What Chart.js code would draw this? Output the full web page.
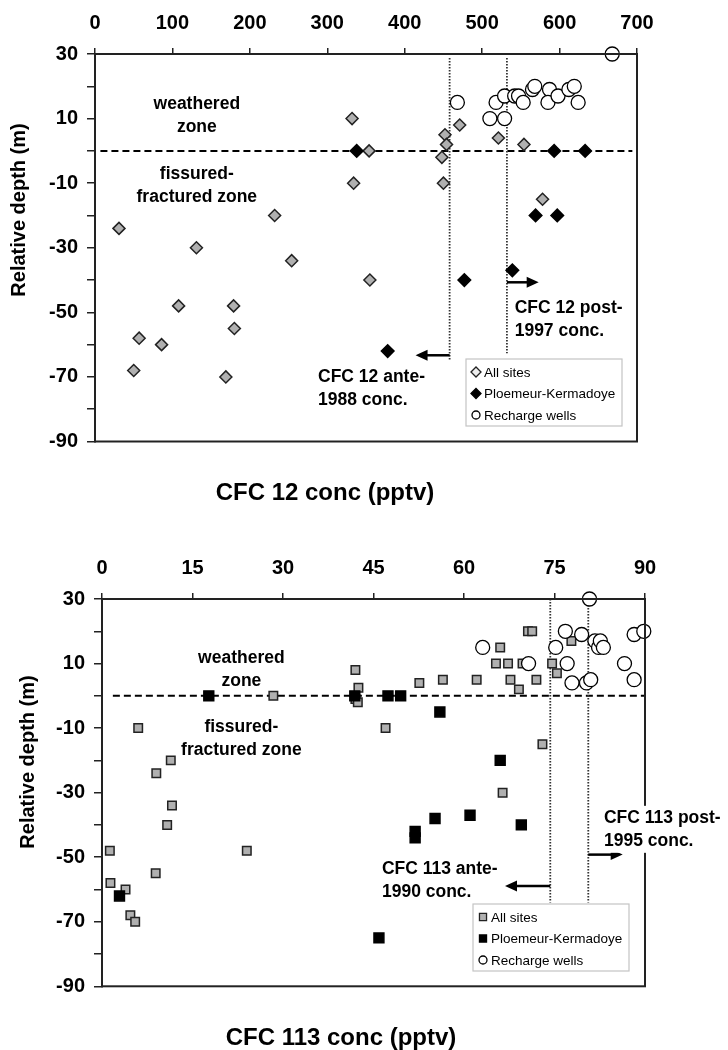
<!DOCTYPE html>
<html>
<head>
<meta charset="utf-8">
<script src="https://cdn.jsdelivr.net/npm/chart.js@4.4.1/dist/chart.umd.min.js"></script>
<style>
  body { margin: 0; background: #fff; }
  .box { position: relative; width: 728px; height: 525px; }
</style>
</head>
<body>
<div class="box"><canvas id="cfc12" width="728" height="525"></canvas></div>
<div class="box"><canvas id="cfc113" width="728" height="525"></canvas></div>
<script>
// CFC 12 (pptv) vs relative depth (m)
const cfc12AllX = [332, 354, 334, 232, 31, 131, 254, 355, 108, 179, 180, 57, 86, 50, 169, 471, 452, 454, 448, 450, 521, 554, 578];
const cfc12AllY = [10, 0, -10, -20, -24, -30, -34, -40, -48, -48, -55, -58, -60, -68, -70, 8, 5, 2, -2, -10, 4, 2, -15];
const cfc12PkX = [338, 378, 477, 539, 593, 633, 569, 597];
const cfc12PkY = [0, -62, -40, -37, 0, 0, -20, -20];
const cfc12WellX = [668, 468, 518, 510, 529, 529, 542, 547, 553, 565, 568, 587, 585, 598, 612, 619, 624];
const cfc12WellY = [30, 15, 15, 10, 10, 17, 17, 17, 15, 19, 20, 19, 15, 17, 19, 20, 15];
const cfc12Limits = [458, 532];      // ante-1988 / post-1997 concentrations
const cfc12Ticks = { min: 0, max: 700, step: 100 };

// CFC 113 (pptv) vs relative depth (m)
const cfc113AllX = [6, 11.4, 9, 11.6, 10.8, 1.3, 1.4, 3.9, 4.7, 5.5, 8.9, 24, 28.4, 42, 42.5, 42, 42.4, 47, 52.6, 56.5, 62.1, 66, 65.3, 67.3, 69.7, 67.7, 69.1, 72, 70.6, 71.3, 74.6, 75.4, 77.8, 73, 66.4];
const cfc113AllY = [-10, -20, -24, -34, -40, -48, -58, -60, -68, -70, -55, -48, 0, 8, 2.5, -1, -2, -10, 4, 5, 5, 15, 10, 10, 10, 5, 2, 5, 20, 20, 10, 7, 17, -15, -30];
const cfc113PkX = [17.7, 41.9, 47.4, 49.5, 56, 66, 2.9, 45.9, 51.9, 51.9, 55.2, 61, 69.5];
const cfc113PkY = [0, 0, 0, 0, -5, -20, -62, -75, -42, -44, -38, -37, -40];
const cfc113WellX = [80.8, 63.1, 70.7, 75.2, 76.8, 79.5, 77.1, 77.9, 80.3, 81, 81.7, 82.3, 82.6, 83.1, 86.6, 88.2, 88.2, 89.8];
const cfc113WellY = [30, 15, 10, 15, 20, 19, 10, 4, 4, 5, 17, 15, 17, 15, 10, 19, 5, 20];
const cfc113Limits = [74.3, 80.6];   // ante-1990 / post-1995 concentrations
const cfc113Ticks = { min: 0, max: 90, step: 15 };

const depthTicks = { min: -90, max: 30, step: 10 };
const zoneDepth = 0;
const seriesLabels = ['All sites', 'Ploemeur-Kermadoye', 'Recharge wells'];

const FONT = '"Liberation Sans", Arial, Helvetica, sans-serif';
Chart.defaults.font.family = FONT;
Chart.defaults.color = '#000';

const zip = (xs, ys) => xs.map((x, i) => ({ x: x, y: ys[i] }));

function arrow(ctx, x0, x1, y) {
  const dir = x1 > x0 ? 1 : -1;
  ctx.beginPath();
  ctx.moveTo(x0, y);
  ctx.lineTo(x1 - dir * 8, y);
  ctx.stroke();
  ctx.beginPath();
  ctx.moveTo(x1, y);
  ctx.lineTo(x1 - dir * 12, y - 5.5);
  ctx.lineTo(x1 - dir * 12, y + 5.5);
  ctx.closePath();
  ctx.fill();
}

function textBlock(ctx, lines, x, y, align, bg) {
  ctx.font = 'bold 17.5px ' + FONT;
  ctx.textAlign = align;
  ctx.textBaseline = 'middle';
  if (bg) {
    const w = Math.max(...lines.map(l => ctx.measureText(l).width));
    const left = align === 'center' ? x - w / 2 : x;
    ctx.fillStyle = '#fff';
    ctx.fillRect(left - 2, y - 12, w + 4, 23 * (lines.length - 1) + 24);
  }
  ctx.fillStyle = '#000';
  lines.forEach((l, i) => ctx.fillText(l, x, y + i * 23));
}

const overlays = {
  id: 'overlays',
  beforeDatasetsDraw(chart, args, o) {
    const { ctx, scales: { x, y } } = chart;
    ctx.save();
    // weathered / fissured boundary
    ctx.strokeStyle = '#000';
    ctx.lineWidth = 2;
    ctx.setLineDash([7, 4]);
    ctx.beginPath();
    ctx.moveTo(x.getPixelForValue(o.zoneFrom), y.getPixelForValue(zoneDepth));
    ctx.lineTo(x.getPixelForValue(o.zoneTo), y.getPixelForValue(zoneDepth));
    ctx.stroke();
    // dotted concentration limits
    ctx.strokeStyle = '#333';
    ctx.lineWidth = 1.8;
    ctx.setLineDash([1.5, 1.5]);
    o.limits.forEach((v, i) => {
      ctx.beginPath();
      ctx.moveTo(x.getPixelForValue(v), y.getPixelForValue(o.limitTop));
      ctx.lineTo(x.getPixelForValue(v), y.getPixelForValue(o.limitBottom[i]));
      ctx.stroke();
    });
    ctx.restore();
  },
  afterDatasetsDraw(chart, args, o) {
    const { ctx, chartArea: a, scales: { x, y } } = chart;
    ctx.save();
    // frame
    ctx.strokeStyle = '#222';
    ctx.lineWidth = 2;
    ctx.strokeRect(a.left, a.top, a.right - a.left, a.bottom - a.top);
    // arrows
    ctx.strokeStyle = '#000';
    ctx.fillStyle = '#000';
    ctx.lineWidth = 2.5;
    o.arrows.forEach(r => arrow(ctx, x.getPixelForValue(r.from), x.getPixelForValue(r.to), y.getPixelForValue(r.y)));
    // labels
    o.texts.forEach(t => textBlock(ctx, t.lines, x.getPixelForValue(t.x), y.getPixelForValue(t.y), t.align, t.bg));
    // axis titles
    ctx.fillStyle = '#000';
    ctx.font = 'bold 24px ' + FONT;
    ctx.textAlign = 'center';
    ctx.textBaseline = 'alphabetic';
    ctx.fillText(o.xTitle, o.xTitlePos[0], o.xTitlePos[1]);
    ctx.save();
    ctx.translate(o.yTitlePos[0], o.yTitlePos[1]);
    ctx.rotate(-Math.PI / 2);
    ctx.font = 'bold 20px ' + FONT;
    ctx.textBaseline = 'middle';
    ctx.fillText('Relative depth (m)', 0, 0);
    ctx.restore();
    // legend
    const lx = a.left + 371, ly = a.top + 305;
    ctx.fillStyle = '#fff';
    ctx.fillRect(lx, ly, 156, 67);
    ctx.strokeStyle = '#c4c4c4';
    ctx.lineWidth = 1.2;
    ctx.strokeRect(lx, ly, 156, 67);
    chart.data.datasets.forEach((ds, i) => {
      const cy = ly + 13 + i * 21.5;
      ctx.fillStyle = i === 0 ? o.legendFill : ds.backgroundColor;
      ctx.strokeStyle = ds.borderColor;
      ctx.lineWidth = 1.3;
      Chart.helpers.drawPoint(ctx, { pointStyle: ds.pointStyle, radius: ds.pointStyle === 'circle' ? 4 : 5, rotation: 0, borderWidth: 1.3 }, lx + 10, cy);
      ctx.fillStyle = '#000';
      ctx.font = '13.5px ' + FONT;
      ctx.textAlign = 'left';
      ctx.textBaseline = 'middle';
      ctx.fillText(ds.label, lx + 18, cy + 1);
    });
    ctx.restore();
  }
};

function makeChart(id, all, pk, wells, shape, xt, box, o) {
  new Chart(document.getElementById(id), {
    type: 'scatter',
    data: {
      datasets: [
        { label: seriesLabels[0], data: all, pointStyle: shape, pointRadius: 6, pointHoverRadius: 6,
          backgroundColor: '#b0b0b0', borderColor: '#222', borderWidth: 1.5, order: 3, clip: false },
        { label: seriesLabels[1], data: pk, pointStyle: shape, pointRadius: shape === 'rect' ? 7 : 6.3, pointHoverRadius: 6,
          backgroundColor: '#000', borderColor: '#000', borderWidth: 1.5, order: 2, clip: false },
        { label: seriesLabels[2], data: wells, pointStyle: 'circle', pointRadius: 7, pointHoverRadius: 7,
          backgroundColor: '#fff', borderColor: '#000', borderWidth: 1.3, order: 1, clip: false }
      ]
    },
    options: {
      responsive: false,
      animation: false,
      layout: { padding: { left: 0, top: 0, right: 728 - box.right, bottom: 525 - box.bottom } },
      scales: {
        x: {
          type: 'linear', position: 'top', min: xt.min, max: xt.max,
          ticks: { stepSize: xt.step, font: { size: 20, weight: 'bold' }, color: '#000', padding: 13, maxRotation: 0 },
          grid: { drawOnChartArea: false, tickLength: 6, color: '#222', lineWidth: 1.5 },
          border: { color: '#222', width: 2 },
          afterFit: s => { s.height = box.top; }
        },
        y: {
          type: 'linear', min: depthTicks.min, max: depthTicks.max,
          ticks: { stepSize: depthTicks.step, font: { size: 20, weight: 'bold' }, color: '#000', padding: 9,
            callback: v => ((v - depthTicks.max) % 20 === 0 ? v : '') },
          grid: { drawOnChartArea: false, tickLength: 8, color: '#222', lineWidth: 1.5 },
          border: { color: '#222', width: 2 },
          afterFit: s => { s.width = box.left; }
        }
      },
      plugins: { legend: { display: false }, tooltip: { enabled: false }, overlays: o }
    },
    plugins: [overlays]
  });
}

makeChart('cfc12', zip(cfc12AllX, cfc12AllY), zip(cfc12PkX, cfc12PkY), zip(cfc12WellX, cfc12WellY), 'rectRot', cfc12Ticks,
  { left: 95, top: 54, right: 637, bottom: 441.5 },
  {
    zoneFrom: 7, zoneTo: 694,
    limits: cfc12Limits, limitTop: 28.8, limitBottom: [-65, -62.7],
    arrows: [{ from: cfc12Limits[0], to: 414, y: -63.3 }, { from: cfc12Limits[1], to: 573, y: -40.7 }],
    texts: [
      { lines: ['weathered', 'zone'], x: 131.5, y: 14.5, align: 'center' },
      { lines: ['fissured-', 'fractured zone'], x: 131.5, y: -7.2, align: 'center' },
      { lines: ['CFC 12 ante-', '1988 conc.'], x: 288, y: -70.2, align: 'left' },
      { lines: ['CFC 12 post-', '1997 conc.'], x: 542, y: -48.8, align: 'left' }
    ],
    legendFill: '#eee',
    xTitle: 'CFC 12 conc (pptv)', xTitlePos: [325, 500], yTitlePos: [19, 210]
  });

makeChart('cfc113', zip(cfc113AllX, cfc113AllY), zip(cfc113PkX, cfc113PkY), zip(cfc113WellX, cfc113WellY), 'rect', cfc113Ticks,
  { left: 102, top: 74, right: 645, bottom: 461.3 },
  {
    zoneFrom: 1.8, zoneTo: 90,
    limits: cfc113Limits, limitTop: 30, limitBottom: [-64, -64],
    arrows: [{ from: cfc113Limits[0], to: 66.8, y: -58.9 }, { from: cfc113Limits[1], to: 86.3, y: -49.2 }],
    texts: [
      { lines: ['weathered', 'zone'], x: 23.1, y: 11.7, align: 'center' },
      { lines: ['fissured-', 'fractured zone'], x: 23.1, y: -9.6, align: 'center' },
      { lines: ['CFC 113 ante-', '1990 conc.'], x: 46.4, y: -53.6, align: 'left' },
      { lines: ['CFC 113 post-', '1995 conc.'], x: 83.2, y: -37.8, align: 'left', bg: true }
    ],
    legendFill: '#b0b0b0',
    xTitle: 'CFC 113 conc (pptv)', xTitlePos: [341, 520], yTitlePos: [28, 237]
  });
</script>
</body>
</html>
